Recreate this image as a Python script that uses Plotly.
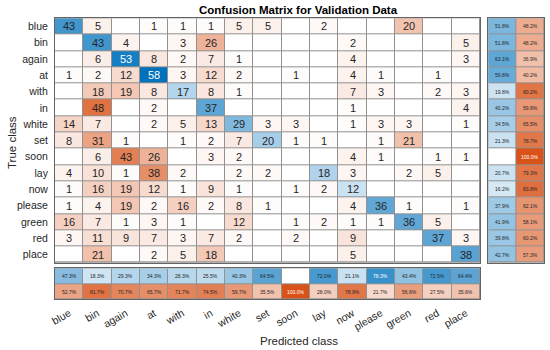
import plotly.graph_objects as go

classes = ["blue", "bin", "again", "at", "with", "in", "white", "set", "soon",
           "lay", "now", "please", "green", "red", "place"]

# rows = true class, columns = predicted class
counts = [
    [43, 5, 0, 1, 1, 1, 5, 5, 0, 2, 0, 0, 20, 0, 0],
    [0, 43, 4, 0, 3, 26, 0, 0, 0, 0, 2, 0, 0, 0, 5],
    [0, 6, 53, 8, 2, 7, 1, 0, 0, 0, 4, 0, 0, 0, 3],
    [1, 2, 12, 58, 3, 12, 2, 0, 1, 0, 4, 1, 0, 1, 0],
    [0, 18, 19, 8, 17, 8, 1, 0, 0, 0, 7, 3, 0, 2, 3],
    [0, 48, 0, 2, 0, 37, 0, 0, 0, 0, 1, 0, 0, 0, 4],
    [14, 7, 0, 2, 5, 13, 29, 3, 3, 0, 1, 3, 3, 0, 1],
    [8, 31, 1, 0, 1, 2, 7, 20, 1, 1, 0, 1, 21, 0, 0],
    [0, 6, 43, 26, 0, 3, 2, 0, 0, 0, 4, 1, 0, 1, 1],
    [4, 10, 1, 38, 2, 0, 2, 2, 0, 18, 3, 0, 2, 5, 0],
    [1, 16, 19, 12, 1, 9, 1, 0, 1, 2, 12, 0, 0, 0, 0],
    [1, 4, 19, 2, 16, 2, 8, 1, 0, 0, 4, 36, 1, 0, 1],
    [16, 7, 1, 3, 1, 0, 12, 0, 1, 2, 1, 1, 36, 5, 0],
    [3, 11, 9, 7, 3, 7, 2, 0, 2, 0, 9, 0, 0, 37, 3],
    [0, 21, 0, 2, 5, 18, 0, 0, 0, 0, 5, 0, 0, 0, 38],
]

n = len(classes)
BLUE = "rgb(0,114,189)"
ORANGE = "rgb(217,83,25)"
DARK = "rgb(38,38,38)"
GRID = "rgb(145,145,145)"
EDGE = "rgb(100,100,100)"
FONT = "Liberation Sans, Arial, sans-serif"

vmax = max(max(r) for r in counts)
row_tot = [sum(r) for r in counts]
col_tot = [sum(counts[i][j] for i in range(n)) for j in range(n)]
row_ok = [100.0 * counts[i][i] / row_tot[i] for i in range(n)]
col_ok = [100.0 * counts[j][j] / col_tot[j] for j in range(n)]

z_diag = [[counts[i][j] if i == j else None for j in range(n)] for i in range(n)]
z_off = [[counts[i][j] if i != j else None for j in range(n)] for i in range(n)]

fig = go.Figure()
common = dict(showscale=False, xgap=1, ygap=1, hoverinfo="skip")
fig.add_trace(go.Heatmap(z=z_off, x=list(range(n)), y=list(range(n)), zmin=0, zmax=vmax,
                         colorscale=[[0, "white"], [1, ORANGE]], xaxis="x", yaxis="y", **common))
fig.add_trace(go.Heatmap(z=z_diag, x=list(range(n)), y=list(range(n)), zmin=0, zmax=vmax,
                         colorscale=[[0, "white"], [1, BLUE]], xaxis="x", yaxis="y", **common))

# row summary
fig.add_trace(go.Heatmap(z=[[p, None] for p in row_ok], x=[0, 1], y=list(range(n)), zmin=0, zmax=100,
                         colorscale=[[0, "white"], [1, BLUE]], xaxis="x2", yaxis="y2", **common))
fig.add_trace(go.Heatmap(z=[[None, 100 - p] for p in row_ok], x=[0, 1], y=list(range(n)), zmin=0, zmax=100,
                         colorscale=[[0, "white"], [1, ORANGE]], xaxis="x2", yaxis="y2", **common))
# column summary
fig.add_trace(go.Heatmap(z=[col_ok, [None] * n], x=list(range(n)), y=[0, 1], zmin=0, zmax=100,
                         colorscale=[[0, "white"], [1, BLUE]], xaxis="x3", yaxis="y3", **common))
fig.add_trace(go.Heatmap(z=[[None] * n, [100 - p for p in col_ok]], x=list(range(n)), y=[0, 1], zmin=0, zmax=100,
                         colorscale=[[0, "white"], [1, ORANGE]], xaxis="x3", yaxis="y3", **common))

ann = []
for i in range(n):
    for j in range(n):
        v = counts[i][j]
        if v == 0:
            continue
        t = v / vmax
        white = (t > 0.76) if i == j else (t > 0.9)
        ann.append(dict(x=j, y=i, xref="x", yref="y", text=str(v), showarrow=False,
                        font=dict(size=11, color="white" if white else DARK, family=FONT)))
for i in range(n):
    for k, p in enumerate([row_ok[i], 100 - row_ok[i]]):
        if p <= 0:
            continue
        t = p / 100
        white = (t > 0.76) if k == 0 else (t > 0.9)
        ann.append(dict(x=k, y=i, xref="x2", yref="y2", text=f"{p:.1f}%", showarrow=False,
                        font=dict(size=5, color="white" if white else DARK, family=FONT)))
for j in range(n):
    for k, p in enumerate([col_ok[j], 100 - col_ok[j]]):
        if p <= 0:
            continue
        t = p / 100
        white = (t > 0.76) if k == 0 else (t > 0.9)
        ann.append(dict(x=j, y=k, xref="x3", yref="y3", text=f"{p:.1f}%", showarrow=False,
                        font=dict(size=5, color="white" if white else DARK, family=FONT)))

W, H = 550, 350


def fx(px):
    return px / W


def fy(py):
    return 1 - py / H


ann.append(dict(x=fx(299), y=fy(10), xref="paper", yref="paper", showarrow=False,
                text="<b>Confusion Matrix for Validation Data</b>", xanchor="center", yanchor="middle",
                font=dict(size=11.5, color="black", family=FONT)))
ann.append(dict(x=fx(299), y=fy(341), xref="paper", yref="paper", showarrow=False,
                text="Predicted class", xanchor="center", yanchor="middle",
                font=dict(size=11.5, color=DARK, family=FONT)))
ann.append(dict(x=fx(12), y=fy(143), xref="paper", yref="paper", showarrow=False,
                text="True class", textangle=-90, xanchor="center", yanchor="middle",
                font=dict(size=11.5, color=DARK, family=FONT)))

box = dict(showgrid=False, zeroline=False, showline=True, mirror=True, linecolor=EDGE, linewidth=1,
           automargin=False)
ymain = [fy(262.7), fy(18.3)]
xmain = [fx(55), fx(480)]

fig.update_layout(
    width=W, height=H, margin=dict(l=0, r=0, t=0, b=0, pad=0), autosize=False,
    paper_bgcolor="white", plot_bgcolor=GRID, showlegend=False, hovermode=False,
    annotations=ann,
    xaxis=dict(domain=xmain, range=[-0.5, n - 0.5], showticklabels=False, ticks="", anchor="y", **box),
    yaxis=dict(domain=ymain, range=[n - 0.5, -0.5], tickvals=list(range(n)), ticktext=classes,
               ticks="", ticklabelstandoff=4, tickfont=dict(size=10.5, color=DARK, family=FONT),
               anchor="x", **box),
    xaxis2=dict(domain=[fx(488.3), fx(544)], range=[-0.5, 1.5], showticklabels=False, ticks="",
                anchor="y2", **box),
    yaxis2=dict(domain=ymain, range=[n - 0.5, -0.5], showticklabels=False, ticks="", anchor="x2", **box),
    xaxis3=dict(domain=xmain, range=[-0.5, n - 0.5], tickvals=list(range(n)), ticktext=classes,
                tickangle=-30, ticks="", ticklabelstandoff=3,
                tickfont=dict(size=10.5, color=DARK, family=FONT), anchor="y3", **box),
    yaxis3=dict(domain=[fy(299.3), fy(268.3)], range=[1.5, -0.5], showticklabels=False,
                ticks="", anchor="x3", **box),
)

# remove the default page margin so the 550x350 figure fills the window exactly
fig.write_html("out.html", config={"displayModeBar": False, "staticPlot": True},
               post_script="document.body.style.margin='0';")
